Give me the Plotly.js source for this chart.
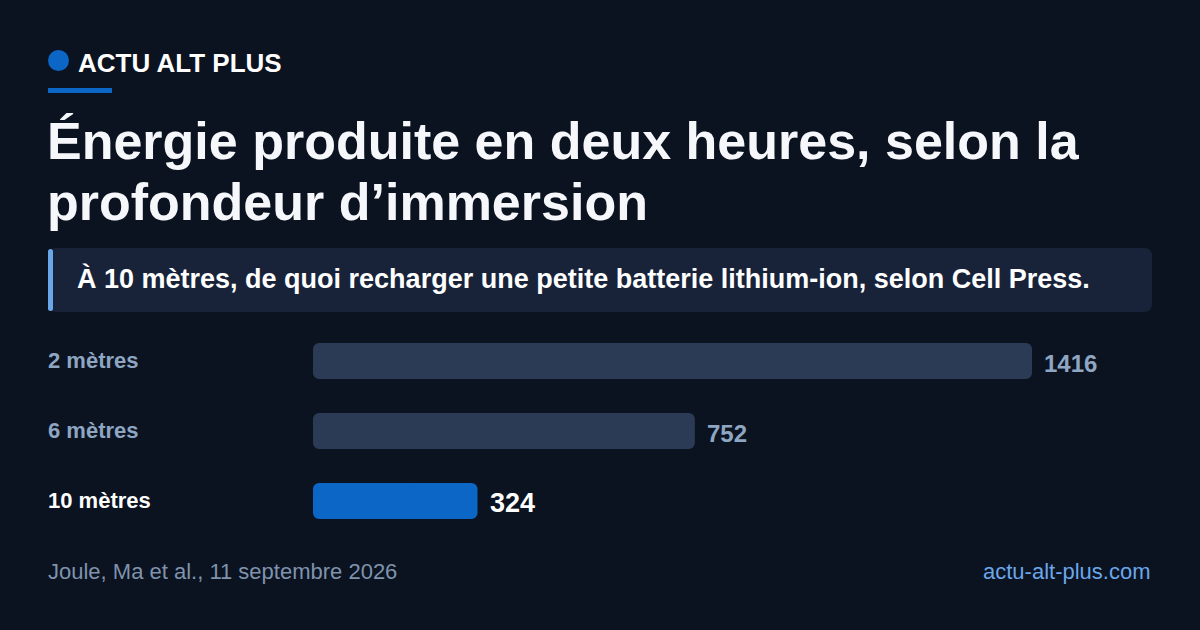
<!DOCTYPE html>
<html>
<head>
<meta charset="utf-8">
<script src="https://cdn.plot.ly/plotly-3.0.1.min.js"></script>
<style>
html,body{margin:0;padding:0;background:#0b1220;}
#chart{width:1200px;height:630px;}
</style>
</head>
<body>
<div id="chart"></div>
<script>
const categories = ["2 mètres", "6 mètres", "10 mètres"];
const values = [1416, 752, 324];
const highlight = [false, false, true];

const W = 1200, H = 630;
const px = x => x / W;
const py = y => 1 - y / H;
const FONT = "Liberation Sans, Arial, sans-serif";

const barColors = highlight.map(h => h ? "#0b66c6" : "#2c3b55");

// Two overlapping halves per bar so both ends get rounded corners
const rightHalf = {
  type: "bar", orientation: "h", y: categories,
  base: values.map(v => v * 0.4), x: values.map(v => v * 0.6),
  marker: {color: barColors, opacity: 1, line: {width: 0}}, width: 36 / 70, hoverinfo: "skip"
};
const leftHalf = {
  type: "bar", orientation: "h", y: categories,
  base: values.map(v => v * 0.6), x: values.map(v => -v * 0.6),
  marker: {color: barColors, opacity: 1, line: {width: 0}}, width: 36 / 70, hoverinfo: "skip"
};

const annotations = [];
categories.forEach((c, i) => {
  annotations.push({
    xref: "paper", yref: "y", x: px(46), y: c, xanchor: "left", yanchor: "middle",
    yshift: 1,
    text: "<b>" + c + "</b>", showarrow: false,
    font: {family: FONT, size: 22, color: highlight[i] ? "#ffffff" : "#8ea6c2"}
  });
  annotations.push({
    xref: "x", yref: "y", x: values[i], y: c, xanchor: "left", yanchor: "middle",
    xshift: 10, yshift: -2,
    text: "<b>" + values[i] + "</b>", showarrow: false,
    font: {family: FONT, size: highlight[i] ? 27 : 24, color: highlight[i] ? "#ffffff" : "#8ea6c2"}
  });
});
annotations.push({xref:"paper", yref:"paper", x:px(76), y:py(63), xanchor:"left", yanchor:"middle",
  text:"<b>ACTU ALT PLUS</b>", showarrow:false, font:{family:FONT, size:26, color:"#ffffff"}});
annotations.push({xref:"paper", yref:"paper", x:px(45), y:py(141), xanchor:"left", yanchor:"middle",
  text:"<b>Énergie produite en deux heures, selon la</b>", showarrow:false, font:{family:FONT, size:52, color:"#f5f7fa"}});
annotations.push({xref:"paper", yref:"paper", x:px(45), y:py(202), xanchor:"left", yanchor:"middle",
  text:"<b>profondeur d’immersion</b>", showarrow:false, font:{family:FONT, size:52, color:"#f5f7fa"}});
annotations.push({xref:"paper", yref:"paper", x:px(75), y:py(278), xanchor:"left", yanchor:"middle",
  text:"<b>À 10 mètres, de quoi recharger une petite batterie lithium-ion, selon Cell Press.</b>", showarrow:false,
  font:{family:FONT, size:27, color:"#ffffff"}});
annotations.push({xref:"paper", yref:"paper", x:px(46), y:py(571), xanchor:"left", yanchor:"middle",
  text:"Joule, Ma et al., 11 septembre 2026", showarrow:false, font:{family:FONT, size:22, color:"#7f93ad"}});
annotations.push({xref:"paper", yref:"paper", x:px(1153), y:py(571), xanchor:"right", yanchor:"middle",
  text:"actu-alt-plus.com", showarrow:false, font:{family:FONT, size:22, color:"#6aa7ea"}});

function roundRect(x0, x1, y0, y1, r) {
  const P = (x, y) => px(x) + "," + py(y);
  return "M" + P(x0 + r, y0) + " L" + P(x1 - r, y0) + " Q" + P(x1, y0) + " " + P(x1, y0 + r) +
    " L" + P(x1, y1 - r) + " Q" + P(x1, y1) + " " + P(x1 - r, y1) +
    " L" + P(x0 + r, y1) + " Q" + P(x0, y1) + " " + P(x0, y1 - r) +
    " L" + P(x0, y0 + r) + " Q" + P(x0, y0) + " " + P(x0 + r, y0) + " Z";
}

const shapes = [
  {type:"circle", xref:"paper", yref:"paper", x0:px(48), x1:px(69), y0:py(50), y1:py(71),
   fillcolor:"#0b66c6", line:{width:0}},
  {type:"rect", xref:"paper", yref:"paper", x0:px(48), x1:px(112), y0:py(88), y1:py(93),
   fillcolor:"#0b66c6", line:{width:0}},
  {type:"path", xref:"paper", yref:"paper", path: roundRect(48, 1152, 248, 312, 8),
   fillcolor:"#18233a", line:{width:0}},
  {type:"path", xref:"paper", yref:"paper", path: roundRect(48, 53, 249, 311, 2.5),
   fillcolor:"#6aa7ea", line:{width:0}}
];

const plotW = 1152 - 313;
const pxPerUnit = (1032 - 313) / 1416;

const layout = {
  width: W, height: H,
  margin: {l:0, r:0, t:0, b:0, pad:0},
  paper_bgcolor: "#0b1220",
  plot_bgcolor: "rgba(0,0,0,0)",
  showlegend: false,
  barmode: "overlay",
  barcornerradius: 6,
  xaxis: {domain:[px(313), px(1152)], range:[0, plotW / pxPerUnit], visible:false, fixedrange:true},
  yaxis: {domain:[py(536), py(326)], type:"category", autorange:"reversed", visible:false, fixedrange:true},
  annotations: annotations,
  shapes: shapes,
  font: {family: FONT}
};

Plotly.newPlot("chart", [rightHalf, leftHalf], layout, {displayModeBar:false, staticPlot:true});
</script>
</body>
</html>
